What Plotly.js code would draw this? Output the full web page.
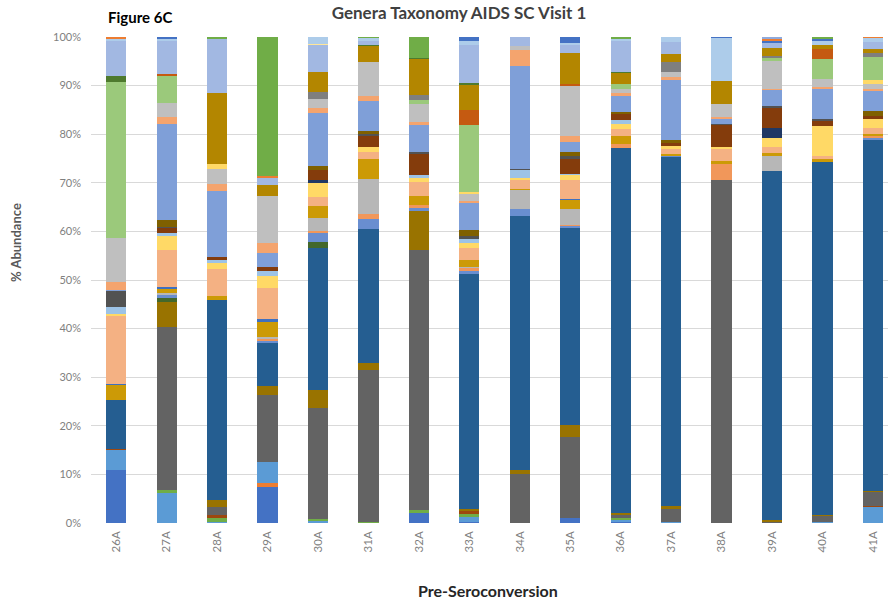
<!DOCTYPE html>
<html>
<head>
<meta charset="utf-8">
<script src="https://cdn.plot.ly/plotly-3.0.1.min.js"></script>
<style>
  html, body { margin: 0; padding: 0; background: #ffffff; }
  #chart { width: 888px; height: 600px; }
</style>
</head>
<body>
<div id="chart"></div>
<script>
// Samples (pre-seroconversion, visit 1)
const samples = ["26A","27A","28A","29A","30A","31A","32A","33A","34A","35A","36A","37A","38A","39A","40A","41A"];

// Relative abundance (%) per genus, one value per sample, listed bottom to top of the stack
const g01 = [10.9,0,0,7.4,0,0,2.1,0.3,0,1.1,0.3,0,0,0,0,0];
const g02 = [0,0,0,0.8,0,0,0,0,0,0,0,0,0,0,0,0];
const g03 = [4.2,6.2,0.2,4.3,0.4,0,0,0.9,0,0,0.4,0.3,0,0,0.3,3.3];
const g04 = [0,0.5,0.8,0,0.5,0.3,0.5,0.7,0,0,0.3,0,0,0,0,0];
const g05 = [0.2,0,0.6,0,0,0,0,0.5,0,0,0,0,0,0,0,0.3];
const g06 = [0,33.7,1.7,13.9,22.8,31.1,53.6,0,10.0,16.6,0.6,2.65,70.5,0.3,1.1,2.7];
const g07 = [0,5.1,1.5,1.8,3.7,1.6,8.1,0.5,1.0,2.4,0.4,0.45,0,0.4,0.2,0.3];
const g08 = [10.1,0,41.1,8.9,29.2,27.5,0,48.3,52.2,40.5,75.2,71.9,0,71.8,72.7,72.2];
const g09 = [0,0.7,0,0,1.2,0,0,0,0,0,0,0,0,0,0,0];
const g10 = [0,0.8,0,0.4,1.8,2.1,0.6,0.6,1.5,0.5,0,0.3,0,0,0,0.4];
const g11 = [0,0,0,0.4,0.5,0.9,0.5,0.6,0,0.3,0.7,0,3.3,0,0,0.4];
const g12 = [0,0.4,0,0.4,2.7,7.2,0,0.3,3.8,3.3,0,0,0,3.1,0,0];
const g13 = [3.0,0.7,0.8,3.0,2.5,4.3,1.9,1.5,0.3,1.7,1.8,0.4,0.7,0.6,0.7,0.4];
const g14 = [0.2,0.5,0,0.6,0,0,0,0,0,0.3,0,0,0,0,0,0];
const g15 = [14.0,7.5,5.5,6.4,1.8,1.4,2.8,2.3,1.7,3.8,1.3,1.0,2.5,1.1,0.6,1.2];
const g16 = [0.5,2.9,1.4,2.5,2.8,1.0,0.9,1.2,0.5,1.1,1.2,0.5,0.4,1.9,6.0,2.0];
const g17 = [1.4,0.6,0.6,1.1,0,0,0.6,0.8,1.6,0.3,0.8,0,0,0,0,0];
const g18 = [0,0,0,0,0.6,0,0,0,0,0,0,0,0,2.0,0,0];
const g19 = [0,1.0,0.5,0.8,2.1,2.3,4.4,0,0,2.9,1.2,0.6,4.4,4.1,1.2,0.6];
const g20 = [3.2,0.4,0,0,0,0.4,0.4,0.5,0.2,0.7,0,0,0.4,0.5,0.4,0];
const g21 = [0,1.3,0,0,0.8,0.5,0,1.3,0,0.9,0.3,0.8,0,0,0,0.9];
const g22 = [0.3,19.7,13.7,2.9,11.0,6.2,5.4,5.5,21.2,2.0,3.3,12.2,1.0,3.2,6.0,4.1];
const g23 = [1.5,1.6,1.4,2.1,0.9,1.0,0.8,0.4,3.3,1.3,0.6,0.6,0.4,0.4,0.5,0.6];
const g24 = [9.2,2.8,3.1,9.6,2.0,7.0,3.7,1.5,0.9,10.3,0.8,1.2,2.7,5.6,1.7,0.9];
const g25 = [0,0,0.9,0,0,0,0,0.5,0,0,0,0,0,0,0,0.8];
const g26 = [32.0,5.5,0,0,0,0,0.7,13.6,0,0,1.2,0,0,0.7,4.1,4.8];
const g27 = [0,0,0,0,1.3,0,1.0,0,0,0,0,1.9,0,0.4,0,0.8];
const g28 = [0,0.4,0,0,0,0,0,3.1,0,0.4,0,0,0,0,2.1,0];
const g29 = [0,0,14.7,2.2,4.3,3.3,7.5,5.3,0,6.3,2.1,1.8,4.7,1.6,0.8,0.8];
const g30 = [1.2,0,0,0,0,0.3,0.2,0.3,0,0,0.3,0,0,0,0,0];
const g31 = [7.3,6.8,11.0,1.4,5.5,0.7,0,7.9,1.8,1.7,6.3,2.3,0,1.1,0,1.5];
const g32 = [0,0,0,0,0.2,0,0,0,0,0,0,0,0,0,0,0];
const g33 = [0.4,0.5,0,0,1.4,0.6,0,0.7,0,0.4,0.4,1.1,8.8,0,0.7,0.7];
const g34 = [0,0.4,0,0,0,0,0,0.9,0,1.2,0,0,0.2,0.3,0.4,0];
const g35 = [0.4,0,0,0.5,0,0,0,0,0,0,0,0,0,0.5,0,0.3];
const g36 = [0,0,0.5,28.6,0,0.3,4.3,0,0,0,0.5,0,0,0,0.5,0];
const g37 = [0,0,0,0,0,0,0,0,0,0,0,0,0,0.4,0,0];

const genera = [g01,g02,g03,g04,g05,g06,g07,g08,g09,g10,g11,g12,g13,g14,g15,g16,g17,g18,g19,
                g20,g21,g22,g23,g24,g25,g26,g27,g28,g29,g30,g31,g32,g33,g34,g35,g36,g37];

// Office-style series palette, same order as the stack
const palette = [
  "#4472C4","#ED7D31","#5B9BD5","#70AD47","#9E480E","#636363","#997300","#255E91",
  "#43682B","#698ED0","#F1975A","#B7B7B7","#CC9A06","#3E70C0","#F4B183","#FFD966",
  "#9DC3E6","#203864","#843C0C","#525252","#7F6000","#7F9FD8","#F4A46E","#BFBFBF",
  "#FFD966","#9BC97B","#7F7F7F","#C55A11","#B38600","#4E7A2E","#A2B8E2","#FFE699",
  "#ADCCEA","#4472C4","#ED7D31","#70AD47","#8FAADC"
];

const traces = genera.map((vals, i) => ({
  type: "bar",
  x: samples,
  y: vals,
  name: "Genus " + (i + 1),
  marker: { color: palette[i], line: { width: 0 } },
  hoverinfo: "x+y+name"
}));

const axisGray = "#7F7F7F";
const font = "Lato, 'Open Sans', sans-serif";

const layout = {
  width: 888,
  height: 600,
  margin: { l: 91, r: 0, t: 37, b: 77 },
  paper_bgcolor: "#ffffff",
  plot_bgcolor: "#ffffff",
  barmode: "stack",
  bargap: 0.6,
  showlegend: false,
  font: { family: font, color: axisGray },
  title: {
    text: "Genera Taxonomy AIDS SC Visit 1",
    font: { family: font, size: 17, color: "#404040", weight: "bold" },
    x: 459 / 888, xref: "container", xanchor: "center",
    y: 1 - 13 / 600, yref: "container", yanchor: "middle"
  },
  xaxis: {
    type: "category",
    range: [-0.5, 15.3],
    tickangle: -90,
    tickfont: { family: font, size: 11.5, color: axisGray },
    showgrid: false,
    zeroline: false,
    showline: false,
    ticks: "",
    ticklabelstandoff: 5
  },
  yaxis: {
    range: [0, 100],
    dtick: 10,
    ticksuffix: "%",
    tickfont: { family: font, size: 11, color: axisGray },
    gridcolor: "#D9D9D9",
    gridwidth: 1,
    zeroline: false,
    showline: false,
    ticks: "",
    ticklabelstandoff: 9
  },
  annotations: [
    {
      text: "<b>Figure 6C</b>", xref: "paper", yref: "paper",
      x: (106 - 91) / 797, y: (523 - 17) / 486, xanchor: "left", yanchor: "middle",
      showarrow: false, font: { family: font, size: 15, color: "#000000" }
    },
    {
      text: "<b>% Abundance</b>", xref: "paper", yref: "paper",
      x: (16 - 91) / 797, y: (523 - 243) / 486, xanchor: "center", yanchor: "middle",
      textangle: -90, showarrow: false, font: { family: font, size: 13, color: "#595959" }
    },
    {
      text: "<b>Pre-Seroconversion</b>", xref: "paper", yref: "paper",
      x: (488 - 91) / 797, y: (523 - 590) / 486, xanchor: "center", yanchor: "middle",
      showarrow: false, font: { family: font, size: 16, color: "#262626" }
    }
  ]
};

Plotly.newPlot("chart", traces, layout, { displayModeBar: false, staticPlot: true });
</script>
</body>
</html>
